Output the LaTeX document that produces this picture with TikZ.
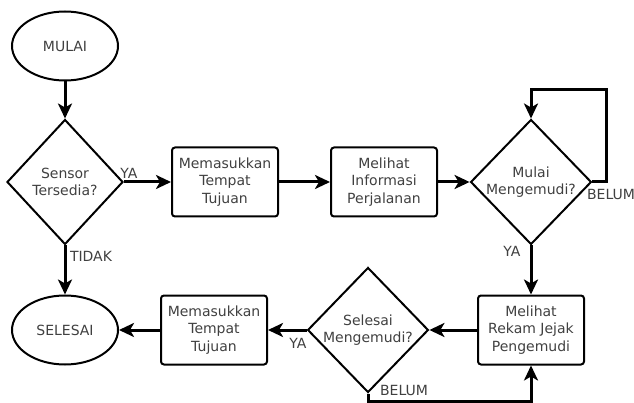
\documentclass[tikz,border=0pt]{standalone}
\usepackage{fontspec}
\setmainfont{DejaVu Sans}
\usetikzlibrary{shapes.geometric,arrows.meta}

\begin{document}
\begin{tikzpicture}[x=1pt, y=-1pt,
        term/.style={draw, ellipse, line width=2pt, minimum width=106pt, minimum height=69pt, inner sep=0pt, font=\fontsize{14}{17.5}\selectfont, text=black!75},
        proc/.style={draw, rectangle, rounded corners=3pt, line width=2pt, minimum width=106pt, minimum height=69pt, inner sep=0pt, align=center, font=\fontsize{14}{17.5}\selectfont, text=black!75},
        dec/.style={draw, diamond, line width=2pt, minimum width=116pt, minimum height=125pt, inner sep=0pt, align=center, font=\fontsize{14}{17.5}\selectfont, text=black!75},
        lbl/.style={font=\fontsize{14}{15}\selectfont, text=black!75, inner sep=1pt},
        arrow/.style={-{Stealth[length=15pt, width=14pt, inset=4pt]}, line width=3pt}
    ]
        \useasboundingbox (0,0) rectangle (634,403);

        % Start / end (absolute positioning)
        \node[term] (mulai) at (65, 46) {MULAI};
        \node[term] (selesai) at (65, 330) {SELESAI};

        % Decisions
        \node[dec] (sensor) at (65, 182) {Sensor\\Tersedia?};
        \node[dec] (mulaiM) at (531, 182) {Mulai\\Mengemudi?};
        \node[dec] (selesaiM) at (368, 330) {Selesai\\Mengemudi?};

        % Processes
        \node[proc] (tujuan) at (225, 182) {Memasukkan\\Tempat\\Tujuan};
        \node[proc] (info) at (384, 182) {Melihat\\Informasi\\Perjalanan};
        \node[proc] (rekam) at (531, 330) {Melihat\\Rekam Jejak\\Pengemudi};
        \node[proc] (tujuan2) at (214, 330) {Memasukkan\\Tempat\\Tujuan};

        % Loop corners
        \coordinate (loopc) at (606, 90);
        \coordinate (belumc) at (368, 401);

        % Arrows
        \draw[arrow] (mulai) -- (sensor);
        \draw[arrow] (sensor.east) -- (tujuan.west);
        \draw[arrow] (tujuan) -- (info);
        \draw[arrow] (info.east) -- (mulaiM.west);
        \draw[arrow] (mulaiM.east) -| (loopc) -| (mulaiM.north);
        \draw[arrow] (mulaiM.south) -- (rekam.north);
        \draw[arrow] (rekam.west) -- (selesaiM.east);
        \draw[arrow] (selesaiM.west) -- (tujuan2.east);
        \draw[arrow] (tujuan2.west) -- (selesai.east);
        \draw[arrow] (sensor.south) -- (selesai.north);
        \draw[arrow] (selesaiM.south) -- (belumc) -| (rekam.south);

        % Labels
        \node[lbl] (yaA) at (129, 173) {YA};
        \node[lbl] (tidak) at (91, 256) {TIDAK};
        \node[lbl] (belumA) at (611, 194) {BELUM};
        \node[lbl] (yaB) at (512, 251) {YA};
        \node[lbl] (yaC) at (298, 343) {YA};
        \node[lbl] (belumB) at (404, 390) {BELUM};

    \end{tikzpicture}
\end{document}
